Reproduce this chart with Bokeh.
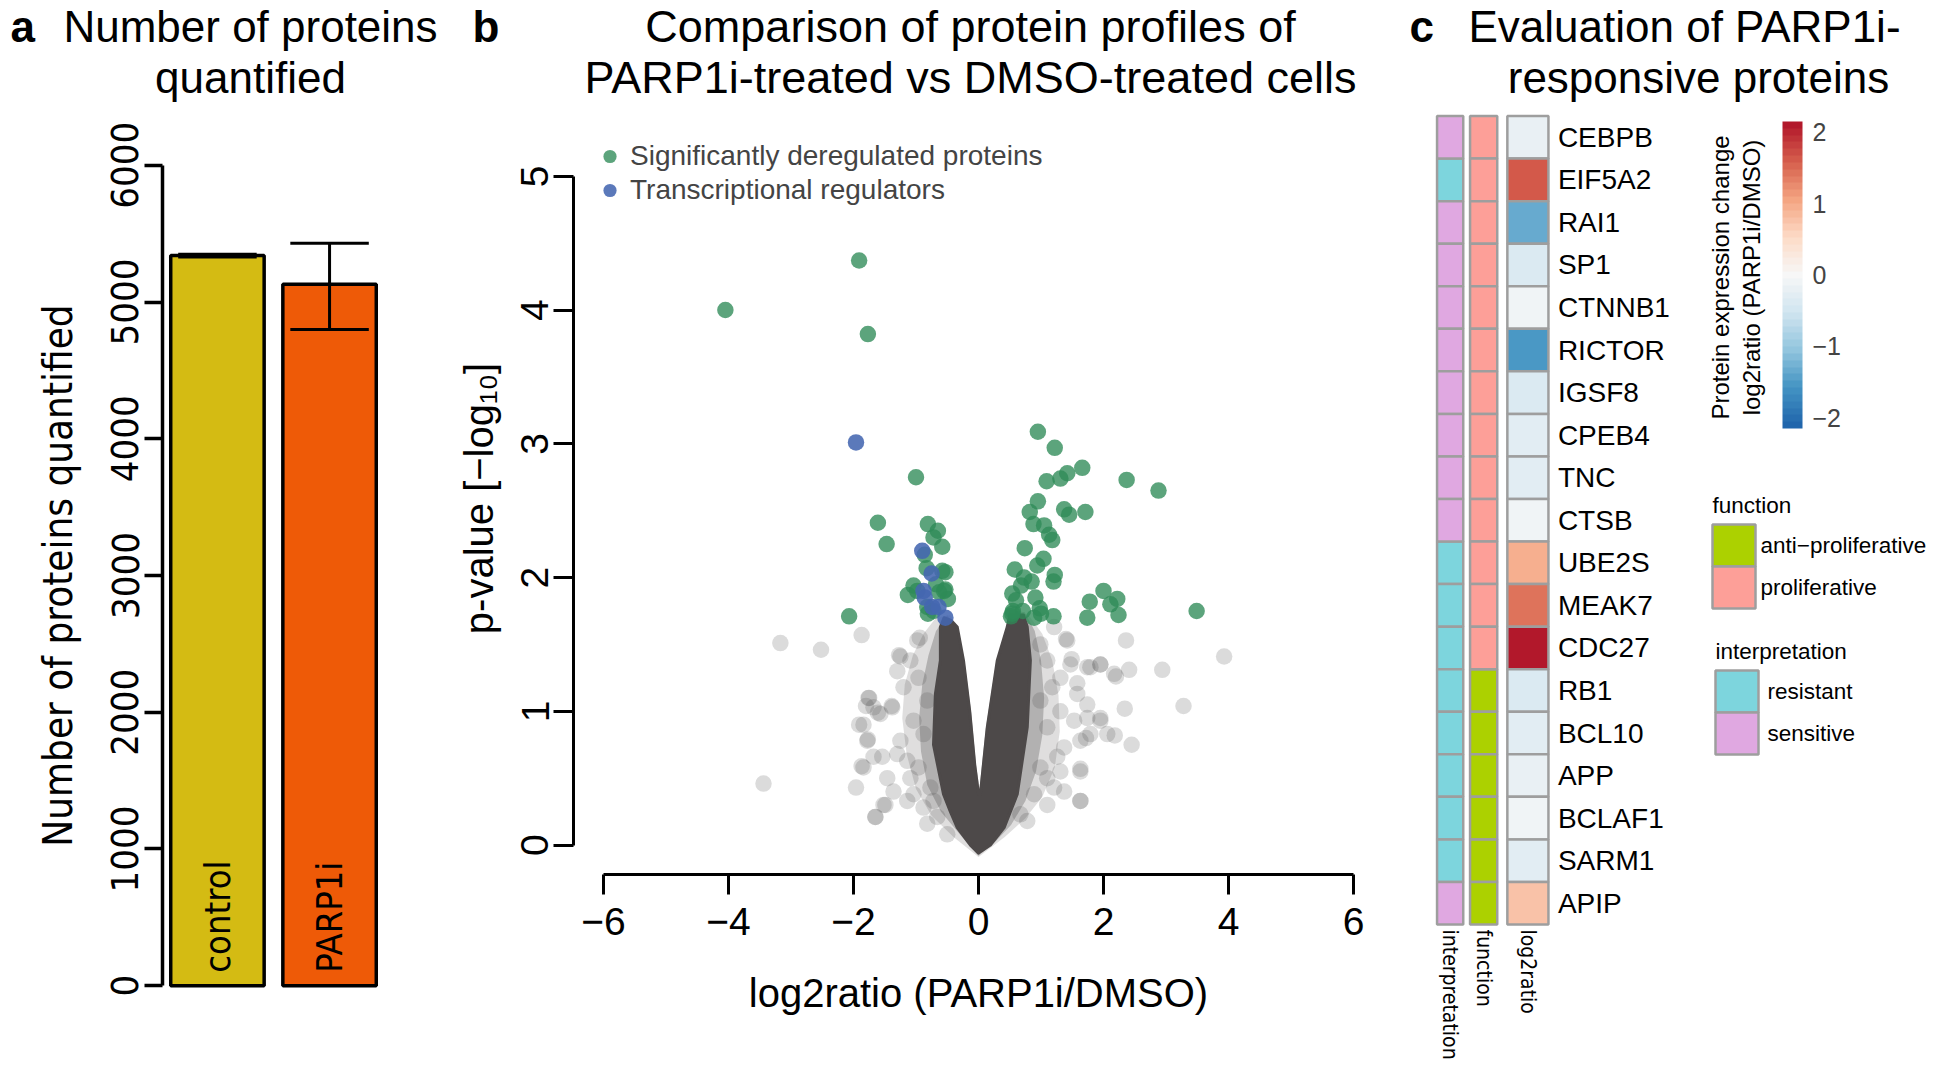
import numpy as np
from bokeh.plotting import figure
from bokeh.models import (Range1d, FixedTicker, LinearColorMapper, ColorBar,
                          Legend, LegendItem, ColumnDataSource)
from bokeh.layouts import row, column
from bokeh.embed import file_html
from bokeh.resources import INLINE
from bokeh.core.properties import value

SANS = "Liberation Sans"
NARROW = "Liberation Sans Narrow, DejaVu Sans Condensed, Roboto Condensed, Roboto"

# ---------------- Panel a data ----------------
groups = ["control", "PARP1i"]
n_quantified = [5340, 5130]
n_lower = [5330, 4800]
n_upper = [5350, 5430]
group_colors = ["#d4bb13", "#ee5a07"]
y_ticks_a = [0, 1000, 2000, 3000, 4000, 5000, 6000]

# ---------------- Panel b data ----------------
sig_log2 = [-4.05, -1.91, -1.77, -1.00, -1.61, -1.47, -2.07, -0.81, -0.65, -0.72, -0.58, -0.86,
            -0.83, -0.53, -1.04, -1.13, -0.63, -0.53, -0.49, -0.81, -0.82, -0.72, -0.58, -0.55,
            -0.98, -0.68,
            0.95, 1.22, 1.66, 1.42, 1.31, 1.09, 2.37, 2.88, 0.95, 0.82, 1.37, 1.45, 1.71, 0.88,
            1.05, 1.13, 1.18, 0.74, 1.04, 0.94, 0.58, 0.85, 1.22, 1.20, 0.68, 0.54, 0.60, 0.91,
            0.55, 0.71, 0.98, 0.52, 0.89, 1.20, 1.78, 2.00, 2.11, 2.22, 1.74, 2.24, 3.49, 0.73,
            1.00, 0.54]
sig_p = [4.00, 4.37, 3.82, 2.75, 2.41, 2.25, 1.71, 2.40, 2.35, 2.30, 2.23, 2.17,
         2.07, 2.04, 1.94, 1.87, 1.89, 1.91, 1.84, 1.73, 1.78, 1.75, 2.05, 1.90,
         1.90, 1.95,
         3.09, 2.97, 2.82, 2.78, 2.74, 2.72, 2.73, 2.65, 2.57, 2.49, 2.51, 2.47, 2.49, 2.40,
         2.39, 2.32, 2.28, 2.22, 2.14, 2.09, 2.06, 1.97, 2.02, 1.97, 1.94, 1.88, 1.83, 1.85,
         1.75, 1.75, 1.77, 1.71, 1.70, 1.71, 1.82, 1.90, 1.80, 1.84, 1.70, 1.72, 1.75, 2.00,
         1.73, 1.73]
tr_log2 = [-1.96, -0.90, -0.75, -0.88, -0.86, -0.74, -0.64, -0.53]
tr_p = [3.01, 2.20, 2.03, 1.90, 1.85, 1.78, 1.78, 1.70]
ns_log2 = [-3.17, -2.52, -1.87, -3.44, -1.96, -1.91, -1.77, -1.87, -1.65, -1.49, -1.75, -1.80,
           -1.61, -1.39, -1.27, 2.36, 2.94, 3.93, 3.28, 2.34, 2.45, 2.18, 1.95, 1.95, 2.41,
           2.20, 1.74, 1.74, 1.63, 1.63, 1.49, 1.40, 1.72, 1.58,
           -1.25, -0.98, -0.94, -1.30, -1.20, -1.76, -1.68, -1.57, -1.38, -1.84, -1.78, -1.25,
           -1.30, -1.09, -1.46, -1.54, -1.68, -1.84, -1.36, -1.14, -1.52, -1.65, -0.50, -0.88,
           -0.66,
           1.42, 1.21, 1.79, 1.95, 2.17, 1.47, 1.31, 1.58, 1.74, 1.95, 1.53, 1.79, 2.06, 1.63,
           1.37, 1.31, 1.63, 1.21, 1.37, 1.63, 1.10, 0.67,
           -1.09, -0.96, -0.82, -1.04, -0.88, -1.14, -0.96, -0.77, -1.04, -0.72, -0.82,
           0.99, 1.10, 1.18, 0.99, 1.31, 1.10, 1.26, 0.99, 0.89, 0.78, 1.10]
ns_p = [1.51, 1.46, 1.57, 0.46, 0.43, 0.90, 0.79, 0.59, 0.21, 0.30, 1.10, 1.04,
        0.99, 1.04, 1.42, 1.53, 1.31, 1.41, 1.04, 1.02, 0.75, 0.82, 0.93, 1.35, 1.31,
        1.26, 1.33, 0.95, 0.33, 0.57, 1.39, 1.54, 0.80, 1.21,
        1.41, 1.53, 1.55, 1.30, 1.18, 1.10, 1.03, 0.98, 1.03, 0.90, 0.78, 0.78,
        0.68, 0.50, 0.50, 0.66, 0.66, 0.58, 0.40, 0.33, 0.30, 0.21, 0.08, 0.28,
        0.21,
        1.53, 1.63, 1.33, 1.35, 1.28, 1.35, 1.25, 1.13, 1.05, 0.95, 0.93, 0.83, 0.83, 0.78,
        0.73, 0.55, 0.55, 0.43, 0.40, 0.33, 0.30, 0.23,
        1.38, 1.25, 1.08, 0.93, 0.83, 0.63, 0.58, 0.43, 0.38, 0.33, 0.16,
        1.50, 1.38, 1.18, 1.08, 1.00, 0.88, 0.66, 0.58, 0.38, 0.18, 0.50]
# outlines of the dense cloud of non-significant proteins (thousands of overlapping points)
halo_log2 = [0.00, -0.40, -0.75, -1.00, -1.15, -1.22, -1.18, -1.05, -0.88, -0.68, -0.45, -0.33,
             -0.22, -0.12, -0.04, 0.015, 0.12, 0.28, 0.44, 0.50, 0.80, 1.02, 1.18, 1.28, 1.30,
             1.22, 1.02, 0.75, 0.42, 0.00]
halo_p = [-0.09, 0.06, 0.22, 0.42, 0.68, 0.95, 1.20, 1.42, 1.58, 1.70, 1.72, 1.60,
          1.36, 1.00, 0.60, 0.42, 0.88, 1.36, 1.62, 1.76, 1.72, 1.58, 1.38, 1.12, 0.85,
          0.58, 0.36, 0.20, 0.06, -0.09]
mid_log2 = [0.00, -0.30, -0.60, -0.82, -0.92, -0.95, -0.90, -0.80, -0.68, -0.50, -0.33, -0.22,
            -0.12, -0.04, 0.015, 0.12, 0.28, 0.44, 0.50, 0.74, 0.90, 1.00, 1.05, 1.02, 0.92,
            0.75, 0.52, 0.28, 0.00]
mid_p = [-0.08, 0.08, 0.25, 0.45, 0.70, 0.95, 1.20, 1.42, 1.60, 1.72, 1.60, 1.36,
         1.00, 0.60, 0.42, 0.88, 1.36, 1.62, 1.76, 1.74, 1.60, 1.38, 1.10, 0.82, 0.55,
         0.33, 0.15, 0.03, -0.08]
core_log2 = [0.00, -0.13, -0.34, -0.45, -0.56, -0.72, -0.69, -0.61, -0.61, -0.55, -0.44, -0.34,
             -0.24, -0.14, -0.06, 0.00, 0.03, 0.14, 0.30, 0.46, 0.50, 0.72, 0.78, 0.83, 0.78,
             0.62, 0.51, 0.41, 0.19, 0.00]
core_p = [-0.06, 0.00, 0.13, 0.25, 0.38, 0.75, 1.13, 1.38, 1.63, 1.70, 1.68, 1.63,
          1.38, 1.00, 0.60, 0.38, 0.38, 0.88, 1.38, 1.63, 1.72, 1.72, 1.63, 1.38, 0.88,
          0.38, 0.25, 0.13, 0.00, -0.06]
x_ticks = [-6, -4, -2, 0, 2, 4, 6]
y_ticks_b = [0, 1, 2, 3, 4, 5]

# ---------------- Panel c data ----------------
genes = ["CEBPB", "EIF5A2", "RAI1", "SP1", "CTNNB1", "RICTOR", "IGSF8", "CPEB4", "TNC", "CTSB",
         "UBE2S", "MEAK7", "CDC27", "RB1", "BCL10", "APP", "BCLAF1", "SARM1", "APIP"]
interpretation = ["sensitive", "resistant", "sensitive", "sensitive", "sensitive", "sensitive",
                  "sensitive", "sensitive", "sensitive", "sensitive", "resistant", "resistant",
                  "resistant", "resistant", "resistant", "resistant", "resistant", "resistant",
                  "sensitive"]
function = ["proliferative"] * 13 + ["anti−proliferative"] * 6
log2ratio = [-0.20, 1.60, -1.35, -0.38, -0.12, -1.50, -0.35, -0.25, -0.25, -0.12,
             0.95, 1.40, 2.15, -0.35, -0.25, -0.20, -0.12, -0.25, 0.80]
interp_colors = {"resistant": "#7dd5dd", "sensitive": "#e0a8e1"}
function_colors = {"anti−proliferative": "#acd100", "proliferative": "#fd9f98"}
column_names = ["interpretation", "function", "log2ratio"]
cb_ticks = [-2, -1, 0, 1, 2]
rdbu9 = ["#2166ac", "#4393c3", "#92c5de", "#d1e5f0", "#f7f7f7", "#fddbc7", "#f4a582",
         "#d6604d", "#b2182b"]


def interp_palette(colors, n):
    rgb = np.array([[int(c[i:i + 2], 16) for i in (1, 3, 5)] for c in colors], float)
    pos = np.linspace(0, 1, len(colors))
    out = []
    for t in np.linspace(0, 1, n):
        out.append("#%02x%02x%02x" % tuple(int(round(np.interp(t, pos, rgb[:, k]))) for k in range(3)))
    return out


H = 1063      # total height
T = 104       # height of the title strip above panels a and b


def bare_fig(width, height):
    p = figure(width=width, height=height, x_range=Range1d(0, width), y_range=Range1d(0, height),
               output_backend="svg", toolbar_location=None, title=None, min_border=0,
               frame_align=False)
    p.outline_line_color = None
    p.grid.visible = False
    p.axis.visible = False
    return p


def style_axis(ax, font, size, lsize, tick_out=19, width=3):
    ax.axis_line_width = width
    ax.major_tick_line_width = width
    ax.major_tick_out = tick_out
    ax.major_tick_in = 0
    ax.minor_tick_line_color = None
    ax.major_label_text_font = font
    ax.major_label_text_font_size = f"{size}px"
    ax.axis_label_text_font = font
    ax.axis_label_text_font_size = f"{lsize}px"
    ax.axis_label_text_font_style = "normal"
    ax.major_label_text_color = "black"
    ax.axis_label_text_color = "black"


def title_texts(p, hgt, letter_x, centers, lines, size):
    p.text(x=[letter_x], y=[hgt - 26], text=[lines[0]], text_font=value(SANS),
           text_font_size="44px", text_font_style="bold", text_baseline="middle",
           text_color="black")
    p.text(x=centers, y=[hgt - 26, hgt - 77], text=lines[1:], text_align="center",
           text_baseline="middle", text_font=value(SANS), text_font_size=f"{size}px",
           text_color="black")


# ================= Panel a =================
WA = 440
A_L, A_T, A_FW, A_FH = 162, 28, 222, 886
ta = bare_fig(WA, T)
title_texts(ta, T, 10, [250, 250], ["a", "Number of proteins", "quantified"], 44)

pa = figure(width=WA, height=H - T, x_range=Range1d(0.112, 2.488), y_range=Range1d(-240, 6240),
            output_backend="svg", toolbar_location=None, title=None, frame_align=False,
            min_border_left=A_L, min_border_right=WA - A_L - A_FW, min_border_top=A_T,
            min_border_bottom=H - T - A_T - A_FH)
pa.outline_line_color = None
pa.grid.visible = False
pa.xaxis.visible = False
xc = [0.7 + 1.2 * i for i in range(len(groups))]
pa.vbar(x=xc, top=n_quantified, bottom=0, width=1.0, fill_color=group_colors,
        line_color="black", line_width=3.5)
pa.segment(x0=xc, y0=n_lower, x1=xc, y1=n_upper, line_color="black", line_width=3)
pa.segment(x0=[x - 0.42 for x in xc], y0=n_lower, x1=[x + 0.42 for x in xc], y1=n_lower,
           line_color="black", line_width=3)
pa.segment(x0=[x - 0.42 for x in xc], y0=n_upper, x1=[x + 0.42 for x in xc], y1=n_upper,
           line_color="black", line_width=3)
pa.text(x=xc, y=[0] * len(xc), text=groups, angle=np.pi / 2, text_align="left",
        text_baseline="middle", y_offset=-13, text_font=value(NARROW), text_font_size="36px",
        text_color="black")
ya = pa.yaxis[0]
style_axis(ya, NARROW, 38, 40, tick_out=18, width=3.5)
ya.bounds = (0, 6000)
ya.ticker = FixedTicker(ticks=y_ticks_a)
ya.major_label_orientation = "vertical"
ya.major_label_standoff = 6
ya.axis_label = "Number of proteins quantified"
ya.axis_label_standoff = 28

# ================= Panel b =================
WB = 945
B_L, B_T, B_FW, B_FH = 133, 18, 810, 752
tb = bare_fig(WB, T)
title_texts(tb, T, 32, [530, 530], ["b", "Comparison of protein profiles of",
                                    "PARP1i-treated vs DMSO-treated cells"], 45)

pb = figure(width=WB, height=H - T, x_range=Range1d(-6.48, 6.48), y_range=Range1d(-0.22, 5.402),
            output_backend="svg", toolbar_location=None, title=None, frame_align=False,
            min_border_left=B_L, min_border_right=WB - B_L - B_FW, min_border_top=B_T,
            min_border_bottom=H - T - B_T - B_FH)
pb.outline_line_color = None
pb.grid.visible = False
GREY = "#4d4949"
pb.patch(halo_log2, halo_p, fill_color=GREY, fill_alpha=0.18, line_color=None)
pb.patch(mid_log2, mid_p, fill_color=GREY, fill_alpha=0.3, line_color=None)
pb.patch(core_log2, core_p, fill_color=GREY, fill_alpha=1.0, line_color=GREY, line_width=3,
         line_join="round")
pb.scatter(ns_log2, ns_p, size=16.5, fill_color=GREY, fill_alpha=0.2, line_color=None)
r_sig = pb.scatter(sig_log2, sig_p, size=16.5, fill_color="#2e8b57", fill_alpha=0.78,
                   line_color=None)
r_tr = pb.scatter(tr_log2, tr_p, size=16.5, fill_color="#4466b0", fill_alpha=0.88,
                  line_color=None)
xb = pb.xaxis[0]
style_axis(xb, SANS, 39, 40, tick_out=20)
xb.bounds = (-6, 6)
xb.ticker = FixedTicker(ticks=x_ticks)
xb.major_label_overrides = {t: ("−%d" % -t if t < 0 else "%d" % t) for t in x_ticks}
xb.major_label_standoff = 13
xb.axis_label = "log2ratio (PARP1i/DMSO)"
xb.axis_label_standoff = 33
yb = pb.yaxis[0]
style_axis(yb, SANS, 39, 40, tick_out=20)
yb.bounds = (0, 5)
yb.ticker = FixedTicker(ticks=y_ticks_b)
yb.major_label_orientation = "vertical"
yb.major_label_standoff = 5
yb.axis_label = "p-value [−log₁₀]"
yb.axis_label_standoff = 18
leg_b = Legend(items=[LegendItem(label="Significantly deregulated proteins", renderers=[r_sig]),
                      LegendItem(label="Transcriptional regulators", renderers=[r_tr])],
               location=(20, 667), glyph_width=33, glyph_height=34, spacing=0, padding=0,
               margin=0, label_standoff=4, label_text_font=SANS, label_text_font_size="28px",
               border_line_color=None, background_fill_alpha=0)
pb.add_layout(leg_b)

# ================= Panel c =================
WC = 543
DX = 13
pc = bare_fig(WC, H)

COL_CX = [51.65 + DX, 85.15 + DX, 129.4 + DX]
COL_W = [26.2, 27.2, 41.1]
ROW_TOP, ROW_H = 115.55, 42.55
CELL_LINE = "#9e9e9e"
row_y = [H - (ROW_TOP + (i + 0.5) * ROW_H) for i in range(len(genes))]

mapper = LinearColorMapper(palette=interp_palette(rdbu9, 45), low=-2.15, high=2.15)

for cat, col in interp_colors.items():
    ys = [y for y, c in zip(row_y, interpretation) if c == cat]
    pc.rect(x=[COL_CX[0]] * len(ys), y=ys, width=COL_W[0], height=ROW_H,
            fill_color=col, line_color=CELL_LINE, line_width=2.5)
for cat, col in function_colors.items():
    ys = [y for y, c in zip(row_y, function) if c == cat]
    pc.rect(x=[COL_CX[1]] * len(ys), y=ys, width=COL_W[1], height=ROW_H,
            fill_color=col, line_color=CELL_LINE, line_width=2.5)
src_l2 = ColumnDataSource(dict(x=[COL_CX[2]] * len(genes), y=row_y, v=log2ratio))
pc.rect(x="x", y="y", width=COL_W[2], height=ROW_H, source=src_l2,
        fill_color={"field": "v", "transform": mapper}, line_color=CELL_LINE, line_width=2.5)

pc.text(x=[159.4 + DX] * len(genes), y=row_y, text=genes, text_align="left",
        text_baseline="middle", text_font=value(SANS), text_font_size="28px", text_color="black")
heat_bottom = ROW_TOP + len(genes) * ROW_H
pc.text(x=COL_CX, y=[H - heat_bottom - 5] * 3, text=column_names,
        angle=-np.pi / 2, text_align="left", text_baseline="middle", text_font=value(NARROW),
        text_font_size="21px", text_color="black")
pc.text(x=[334.5, 365.8], y=[H - 277] * 2,
        text=["Protein expression change", "log2ratio (PARP1i/DMSO)"], angle=np.pi / 2,
        text_align="center", text_baseline="middle", text_font=value(SANS),
        text_font_size="24px", text_color="black")
title_texts(pc, H, 24, [299, 313], ["c", "Evaluation of PARP1i-", "responsive proteins"], 44)

cb = ColorBar(color_mapper=mapper, location=(397, 635), width=20, height=307, padding=0,
              margin=0, ticker=FixedTicker(ticks=cb_ticks),
              major_label_overrides={t: ("−%d" % -t if t < 0 else "%d" % t) for t in cb_ticks},
              major_tick_line_color=None, bar_line_color=None, border_line_color=None,
              background_fill_alpha=0, label_standoff=10, major_label_text_font=SANS,
              major_label_text_font_size="25px", title=None)
pc.add_layout(cb)


# legends of the two annotation columns (boxes stacked without gaps, grey borders)
def box_legend(p, title, entries, left, title_y, top, box_w, box_h, label_gap):
    p.text(x=[left], y=[H - title_y], text=[title], text_align="left", text_baseline="middle",
           text_font=value(SANS), text_font_size="22.5px", text_color="black")
    names = list(entries.keys())
    ys = [H - (top + (k + 0.5) * box_h) for k in range(len(names))]
    p.rect(x=[left + box_w / 2] * len(names), y=ys, width=box_w, height=box_h,
           fill_color=list(entries.values()), line_color=CELL_LINE, line_width=2.5)
    p.text(x=[left + box_w + label_gap] * len(names), y=ys, text=names, text_align="left",
           text_baseline="middle", text_font=value(SANS), text_font_size="22.5px",
           text_color="black")


box_legend(pc, "function", function_colors, 314 + DX, 505, 524, 43, 42, 5)
box_legend(pc, "interpretation", interp_colors, 317 + DX, 651, 670, 43, 42, 9)

layout = row(column(ta, pa), column(tb, pb), pc)
open("out.html", "w").write(file_html(layout, INLINE))
